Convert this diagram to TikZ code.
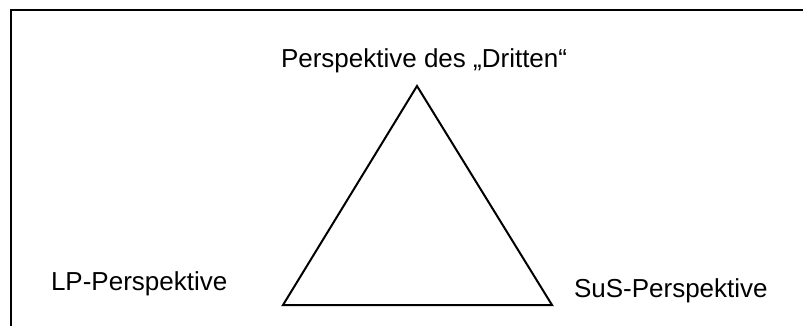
\documentclass[tikz,border=0pt]{standalone}
\usepackage{fontspec}
\setmainfont{Liberation Sans}
\usetikzlibrary{calc}
\tikzset{
  every path/.style={
    black,
    line width=2pt
  },
  persp/.style={
    anchor=base west,
    inner sep=0pt,
    font=\fontsize{26}{31}\selectfont
  }
}

\begin{document}
\begin{tikzpicture}[x=1pt,y=-1pt]

    % Rahmen
    \useasboundingbox (0,0) rectangle (803,325);
    \draw[line width=2.5pt] (11,340) -- (11,10) -- (820,10);

    % Ecken des Dreiecks
    \coordinate (oben)   at (417,86);
    \coordinate (links)  at (283,305);
    \coordinate (rechts) at (552,305);

    % Dreieck
    \draw[line join=miter] (oben) -- (links) -- (rechts) -- cycle;

    % Beschriftungen
    \node[persp] (dritter) at (280,67)  {Perspektive des „Dritten“};
    \node[persp] (lp)      at (50,290)  {LP-Perspektive};
    \node[persp] (sus)     at (573,297) {SuS-Perspektive};

\end{tikzpicture}
\end{document}
